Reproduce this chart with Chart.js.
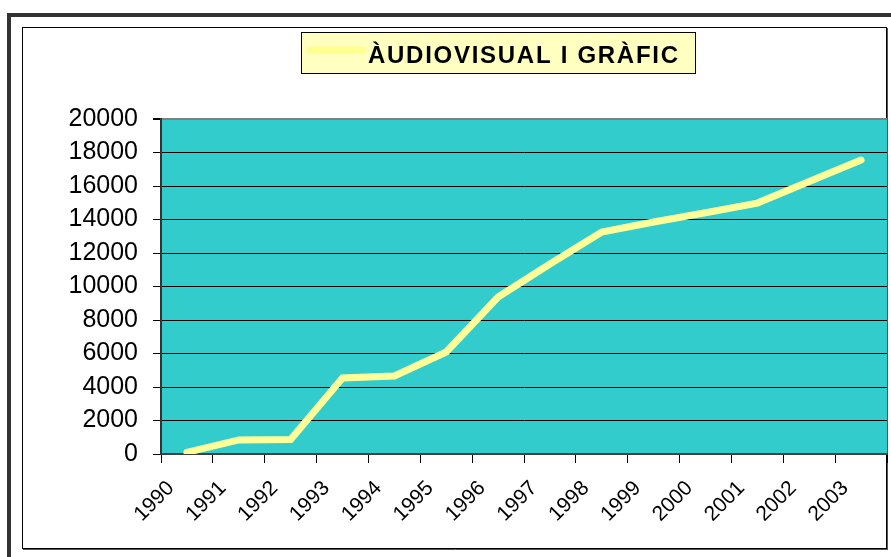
<!DOCTYPE html>
<html>
<head>
<meta charset="utf-8">
<script src="https://cdn.jsdelivr.net/npm/chart.js@4/dist/chart.umd.min.js"></script>
<style>
  html, body { margin: 0; padding: 0; background: #fff; }
  #wrap { position: relative; width: 891px; height: 557px; overflow: hidden; }
</style>
</head>
<body>
<div id="wrap"><canvas id="chart" width="891" height="557"></canvas></div>
<script>
// Data
const years = ['1990', '1991', '1992', '1993', '1994', '1995', '1996',
  '1997', '1998', '1999', '2000', '2001', '2002', '2003'];
const audiovisual = [100, 840, 860, 4540, 4660, 6090, 9370,
  11340, 13250, 13850, 14400, 14980, 16270, 17550];
const seriesName = 'ÀUDIOVISUAL I GRÀFIC';
const yMin = 0, yMax = 20000, yStep = 2000;

const plotColor = '#33CCCC';
const lineColor = '#FFFF99';

// frame, plot background and legend box
const framePlugin = {
  id: 'frame',
  beforeDraw(chart) {
    const ctx = chart.ctx;
    const a = chart.chartArea;
    ctx.save();
    ctx.fillStyle = '#fff';
    ctx.fillRect(0, 0, chart.width, chart.height);
    // outer dark border (top + left)
    ctx.fillStyle = '#333';
    ctx.fillRect(7, 13, chart.width - 7, 4);
    ctx.fillRect(7, 13, 4, chart.height - 13);
    // inner border
    ctx.strokeStyle = '#000';
    ctx.lineWidth = 1;
    ctx.strokeRect(22.5, 27.5, 864, 521);
    ctx.strokeStyle = '#555';
    ctx.beginPath();
    ctx.moveTo(887.5, 28); ctx.lineTo(887.5, 550);
    ctx.moveTo(23, 549.5); ctx.lineTo(888, 549.5);
    ctx.stroke();
    // plot area
    ctx.fillStyle = plotColor;
    ctx.fillRect(a.left, a.top, a.right - a.left, a.bottom - a.top);
    ctx.restore();
  },
  afterDraw(chart) {
    const ctx = chart.ctx;
    ctx.save();
    // legend
    ctx.fillStyle = '#FFFFC0';
    ctx.fillRect(301, 32, 394, 41);
    ctx.strokeStyle = '#000';
    ctx.lineWidth = 1;
    ctx.strokeRect(301.5, 32.5, 394, 41);
    ctx.strokeStyle = '#FFFF90';
    ctx.lineWidth = 7;
    ctx.lineCap = 'round';
    ctx.beginPath();
    ctx.moveTo(310, 50); ctx.lineTo(363, 50);
    ctx.stroke();
    ctx.fillStyle = '#000';
    ctx.font = 'bold 24px "Liberation Sans", Arial, sans-serif';
    ctx.letterSpacing = '0px';
    const w = ctx.measureText(seriesName).width;
    ctx.letterSpacing = Math.max(0, (310 - w) / (seriesName.length - 1)).toFixed(2) + 'px';
    ctx.textBaseline = 'alphabetic';
    ctx.fillText(seriesName, 368, 63);
    ctx.restore();
  }
};

const ctx = document.getElementById('chart').getContext('2d');
const chart = new Chart(ctx, {
  type: 'line',
  data: {
    labels: years,
    datasets: [{
      label: seriesName,
      data: audiovisual,
      borderColor: lineColor,
      borderWidth: 7,
      borderCapStyle: 'round',
      borderJoinStyle: 'miter',
      pointRadius: 0,
      tension: 0,
      fill: false
    }]
  },
  options: {
    responsive: false,
    animation: false,
    layout: { padding: { left: 0, top: 119, right: 4, bottom: 0 } },
    plugins: {
      legend: { display: false },
      tooltip: { enabled: false }
    },
    scales: {
      x: {
        type: 'category',
        offset: true,
        afterFit(s) {
          s.height = 103;
          s.paddingLeft = 0;
          s.paddingRight = 0;
        },
        grid: {
          offset: true,
          drawOnChartArea: false,
          drawTicks: true,
          tickLength: 9,
          tickColor: '#000'
        },
        border: { color: '#404040', width: 2 },
        ticks: {
          color: '#000',
          minRotation: 45,
          maxRotation: 45,
          autoSkip: false,
          padding: 13,
          labelOffset: -16,
          font: { family: '"Liberation Sans", Arial, sans-serif', size: 21 }
        }
      },
      y: {
        min: yMin,
        max: yMax,
        afterFit(s) { s.width = 161; },
        grid: {
          color: (c) => (c.tick && c.tick.value === yMax) ? '#808080' : '#000',
          lineWidth: (c) => (c.tick && c.tick.value === yMax) ? 2 : 1,
          tickLength: 8,
          tickColor: '#000'
        },
        border: { color: '#333', width: 2 },
        ticks: {
          stepSize: yStep,
          color: '#000',
          padding: 15,
          callback: (v) => String(v),
          font: { family: '"Liberation Sans", Arial, sans-serif', size: 25 }
        }
      }
    }
  },
  plugins: [framePlugin]
});
</script>
</body>
</html>
